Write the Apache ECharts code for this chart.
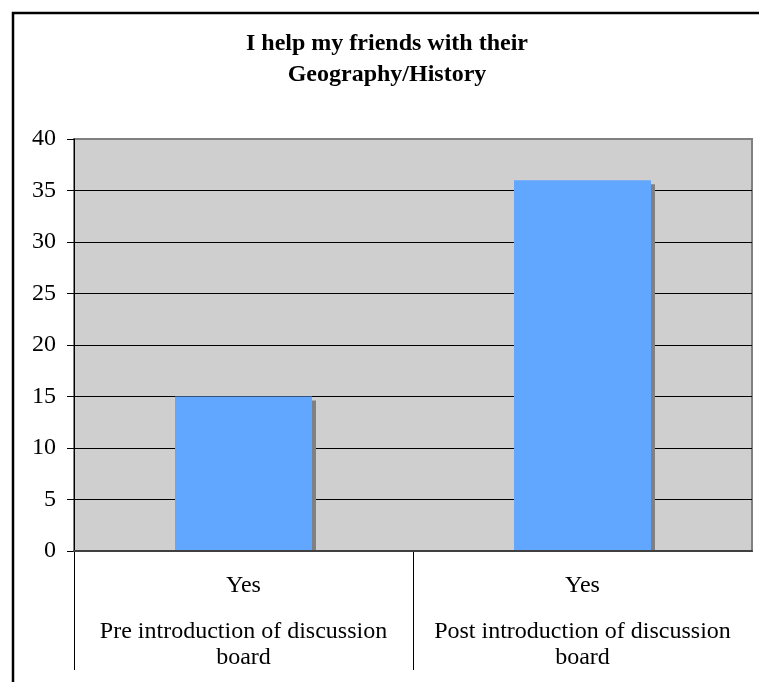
<!DOCTYPE html>
<html>
<head>
<meta charset="utf-8">
<script src="https://cdn.jsdelivr.net/npm/echarts@6/dist/echarts.min.js"></script>
<style>
html,body{margin:0;padding:0;background:#fff;}
#chart{width:759px;height:682px;}
</style>
</head>
<body>
<div id="chart"></div>
<script>
const titleText = 'I help my friends with their\nGeography/History';
const answers = ['Yes', 'Yes'];
const groups = ['Pre introduction of discussion\nboard', 'Post introduction of discussion\nboard'];
const values = [15, 36];
const yMin = 0, yMax = 40, yStep = 5;

const serif = "'Liberation Serif', 'Times New Roman', serif";
const chart = echarts.init(document.getElementById('chart'), null, {renderer: 'canvas'});
const cats = answers.map((a, i) => a + '|' + i);
const barFrac = 0.404;

chart.setOption({
  animation: false,
  backgroundColor: '#ffffff',
  graphic: [{
    type: 'rect', z: 100, silent: true,
    shape: {x: 13, y: 13, width: 900, height: 900},
    style: {fill: null, stroke: '#000', lineWidth: 2.5}
  }],
  title: {
    text: titleText,
    left: 387,
    textAlign: 'center',
    top: 28,
    padding: 0,
    textStyle: {fontFamily: serif, fontSize: 24, fontWeight: 'bold', color: '#000', lineHeight: 31}
  },
  grid: {
    left: 74, right: 7, top: 139, bottom: 131,
    show: true, backgroundColor: '#CFCFCF', borderColor: '#808080', borderWidth: 2
  },
  xAxis: [{
    type: 'category',
    data: cats,
    z: 5,
    axisLine: {show: true, lineStyle: {color: '#404040', width: 2}},
    axisTick: {show: false},
    axisLabel: {
      interval: 0, margin: 2,
      formatter: (v) => {
        const i = +v.split('|')[1];
        return '{a|' + answers[i] + '}\n' + groups[i].split('\n').map(s => '{b|' + s + '}').join('\n');
      },
      rich: {
        a: {fontFamily: serif, fontSize: 24, color: '#000', lineHeight: 66},
        b: {fontFamily: serif, fontSize: 24, color: '#000', lineHeight: 26}
      }
    },
    splitLine: {show: false}
  }, {
    type: 'value', position: 'bottom', min: 0, max: 2,
    axisLine: {show: false},
    axisLabel: {show: false},
    splitLine: {show: false},
    axisTick: {show: true, customValues: [0, 1], length: 119, lineStyle: {color: '#000', width: 1}}
  }],
  yAxis: {
    type: 'value', min: yMin, max: yMax, interval: yStep,
    axisLine: {show: true, lineStyle: {color: '#000', width: 1}},
    axisTick: {show: true, length: 7, lineStyle: {color: '#000'}},
    axisLabel: {fontFamily: serif, fontSize: 24, color: '#000', margin: 18},
    splitLine: {show: true, showMinLine: false, showMaxLine: false, lineStyle: {color: '#000', width: 1}}
  },
  series: [{
    type: 'custom',
    name: 'shadow',
    z: 1,
    silent: true,
    data: values.map((v, i) => [i, v]),
    renderItem: (params, api) => {
      const top = api.coord([api.value(0), api.value(1)]);
      const base = api.coord([api.value(0), 0]);
      const w = api.size([1, 0])[0] * barFrac;
      const off = 4;
      return {
        type: 'rect',
        shape: {x: top[0] - w / 2 + off, y: top[1] + off, width: w, height: Math.max(0, base[1] - top[1] - off)},
        style: {fill: '#808080'}
      };
    }
  }, {
    type: 'bar',
    z: 2,
    data: values,
    barWidth: (barFrac * 100) + '%',
    itemStyle: {color: '#62A7FF'}
  }]
});
</script>
</body>
</html>
